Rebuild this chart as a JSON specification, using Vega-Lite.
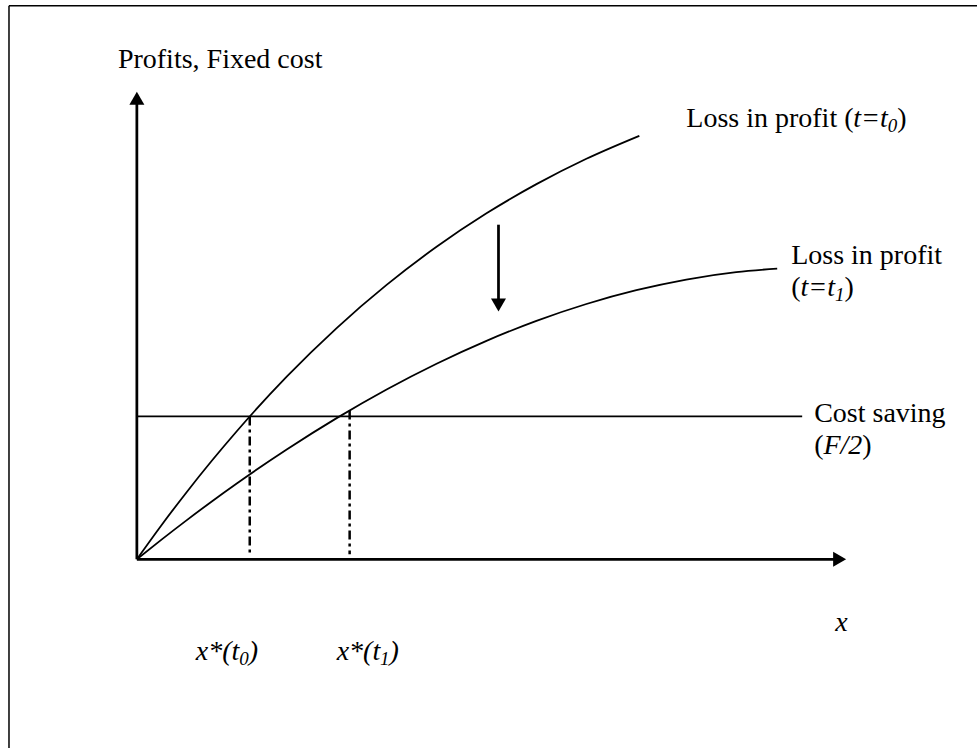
{
  "$schema": "https://vega.github.io/schema/vega-lite/v6.json",
  "width": 978,
  "height": 749,
  "autosize": {"type": "fit", "contains": "padding"},
  "padding": 0,
  "background": "white",
  "config": {"view": {"stroke": null}},
  "datasets": {
    "segs": [
      {"x": -1.28, "y": 5.5425, "x2": 8.41, "y2": 5.5425, "kind": "border"},
      {"x": -1.28, "y": 5.5425, "x2": -1.28, "y2": -1.89, "kind": "border"},
      {"x": 0, "y": 0, "x2": 0, "y2": 4.6, "kind": "axis"},
      {"x": 0, "y": 0, "x2": 6.98, "y2": 0, "kind": "axis"},
      {"x": 3.62, "y": 3.35, "x2": 3.62, "y2": 2.6, "kind": "axis"},
      {"x": 0, "y": 1.43, "x2": 6.66, "y2": 1.43, "kind": "thin"},
      {"x": 1.13, "y": 1.43, "x2": 1.13, "y2": 0.05, "kind": "dash"},
      {"x": 2.13, "y": 1.49, "x2": 2.13, "y2": 0.05, "kind": "dash"}
    ],
    "heads": [
      {"x": 0, "y": 4.615, "dir": "up"},
      {"x": 7.035, "y": 0, "dir": "right"},
      {"x": 3.62, "y": 2.545, "dir": "down"}
    ],
    "curves": [
      {"curve": "t0", "x": 0, "y": 0},
      {"curve": "t0", "x": 0.25, "y": 0.346},
      {"curve": "t0", "x": 0.5, "y": 0.674},
      {"curve": "t0", "x": 0.75, "y": 0.986},
      {"curve": "t0", "x": 1.0, "y": 1.282},
      {"curve": "t0", "x": 1.5, "y": 1.828},
      {"curve": "t0", "x": 2.0, "y": 2.315},
      {"curve": "t0", "x": 2.5, "y": 2.747},
      {"curve": "t0", "x": 3.0, "y": 3.129},
      {"curve": "t0", "x": 3.5, "y": 3.464},
      {"curve": "t0", "x": 4.0, "y": 3.756},
      {"curve": "t0", "x": 4.5, "y": 4.01},
      {"curve": "t0", "x": 5.03, "y": 4.24},
      {"curve": "t1", "x": 0, "y": 0},
      {"curve": "t1", "x": 0.25, "y": 0.199},
      {"curve": "t1", "x": 0.5, "y": 0.392},
      {"curve": "t1", "x": 0.75, "y": 0.579},
      {"curve": "t1", "x": 1.0, "y": 0.759},
      {"curve": "t1", "x": 1.5, "y": 1.099},
      {"curve": "t1", "x": 2.0, "y": 1.413},
      {"curve": "t1", "x": 2.5, "y": 1.7},
      {"curve": "t1", "x": 3.0, "y": 1.958},
      {"curve": "t1", "x": 3.5, "y": 2.187},
      {"curve": "t1", "x": 4.0, "y": 2.387},
      {"curve": "t1", "x": 4.5, "y": 2.556},
      {"curve": "t1", "x": 5.0, "y": 2.694},
      {"curve": "t1", "x": 5.5, "y": 2.801},
      {"curve": "t1", "x": 6.0, "y": 2.875},
      {"curve": "t1", "x": 6.41, "y": 2.91}
    ],
    "texts": [
      {"text": "Profits, Fixed cost", "x": -0.19, "y": 4.92, "style": "regular"},
      {"text": "Loss in profit (", "x": 5.5, "y": 4.33, "style": "regular"},
      {"text": "t=t", "x": 7.172, "y": 4.33, "style": "italic"},
      {"text": "0", "x": 7.517, "y": 4.28, "style": "sub"},
      {"text": ")", "x": 7.612, "y": 4.33, "style": "regular"},
      {"text": "Loss in profit", "x": 6.55, "y": 2.96, "style": "regular"},
      {"text": "(", "x": 6.55, "y": 2.64, "style": "regular"},
      {"text": "t=t", "x": 6.643, "y": 2.64, "style": "italic"},
      {"text": "1", "x": 6.988, "y": 2.59, "style": "sub"},
      {"text": ")", "x": 7.083, "y": 2.64, "style": "regular"},
      {"text": "Cost saving", "x": 6.78, "y": 1.37, "style": "regular"},
      {"text": "(", "x": 6.78, "y": 1.05, "style": "regular"},
      {"text": "F/2", "x": 6.873, "y": 1.05, "style": "italic"},
      {"text": ")", "x": 7.262, "y": 1.05, "style": "regular"},
      {"text": "x", "x": 6.99, "y": -0.72, "style": "italic"},
      {"text": "x*(t", "x": 0.59, "y": -1.01, "style": "italic"},
      {"text": "0", "x": 1.025, "y": -1.06, "style": "sub"},
      {"text": ")", "x": 1.12, "y": -1.01, "style": "italic"},
      {"text": "x*(t", "x": 2.0, "y": -1.01, "style": "italic"},
      {"text": "1", "x": 2.435, "y": -1.06, "style": "sub"},
      {"text": ")", "x": 2.53, "y": -1.01, "style": "italic"}
    ]
  },
  "layer": [
    {
      "data": {"name": "segs"},
      "transform": [{"filter": "datum.kind === 'border'"}],
      "mark": {"type": "rule", "color": "black", "strokeWidth": 1.5},
      "encoding": {
        "x": {"field": "x", "type": "quantitative", "scale": {"domain": [-1.37, 8.41], "nice": false, "zero": false}, "axis": null},
        "y": {"field": "y", "type": "quantitative", "scale": {"domain": [-1.89, 5.6], "nice": false, "zero": false}, "axis": null},
        "x2": {"field": "x2"},
        "y2": {"field": "y2"}
      }
    },
    {
      "data": {"name": "segs"},
      "transform": [{"filter": "datum.kind === 'axis'"}],
      "mark": {"type": "rule", "color": "black", "strokeWidth": 2.75},
      "encoding": {
        "x": {"field": "x", "type": "quantitative", "scale": {"domain": [-1.37, 8.41], "nice": false, "zero": false}, "axis": null},
        "y": {"field": "y", "type": "quantitative", "scale": {"domain": [-1.89, 5.6], "nice": false, "zero": false}, "axis": null},
        "x2": {"field": "x2"},
        "y2": {"field": "y2"}
      }
    },
    {
      "data": {"name": "segs"},
      "transform": [{"filter": "datum.kind === 'thin'"}],
      "mark": {"type": "rule", "color": "black", "strokeWidth": 1.7},
      "encoding": {
        "x": {"field": "x", "type": "quantitative", "scale": {"domain": [-1.37, 8.41], "nice": false, "zero": false}, "axis": null},
        "y": {"field": "y", "type": "quantitative", "scale": {"domain": [-1.89, 5.6], "nice": false, "zero": false}, "axis": null},
        "x2": {"field": "x2"},
        "y2": {"field": "y2"}
      }
    },
    {
      "data": {"name": "segs"},
      "transform": [{"filter": "datum.kind === 'dash'"}],
      "mark": {"type": "rule", "color": "black", "strokeWidth": 2.5, "strokeDash": [9, 4, 3, 4]},
      "encoding": {
        "x": {"field": "x", "type": "quantitative", "scale": {"domain": [-1.37, 8.41], "nice": false, "zero": false}, "axis": null},
        "y": {"field": "y", "type": "quantitative", "scale": {"domain": [-1.89, 5.6], "nice": false, "zero": false}, "axis": null},
        "x2": {"field": "x2"},
        "y2": {"field": "y2"}
      }
    },
    {
      "data": {"name": "curves"},
      "mark": {"type": "line", "color": "black", "strokeWidth": 1.8, "interpolate": "monotone"},
      "encoding": {
        "x": {"field": "x", "type": "quantitative", "scale": {"domain": [-1.37, 8.41], "nice": false, "zero": false}, "axis": null},
        "y": {"field": "y", "type": "quantitative", "scale": {"domain": [-1.89, 5.6], "nice": false, "zero": false}, "axis": null},
        "detail": {"field": "curve", "type": "nominal"}
      }
    },
    {
      "data": {"name": "heads"},
      "transform": [{"filter": "datum.dir === 'up'"}],
      "mark": {"type": "point", "shape": "triangle-up", "filled": true, "color": "black", "opacity": 1, "size": 225, "strokeWidth": 0},
      "encoding": {
        "x": {"field": "x", "type": "quantitative", "scale": {"domain": [-1.37, 8.41], "nice": false, "zero": false}, "axis": null},
        "y": {"field": "y", "type": "quantitative", "scale": {"domain": [-1.89, 5.6], "nice": false, "zero": false}, "axis": null}
      }
    },
    {
      "data": {"name": "heads"},
      "transform": [{"filter": "datum.dir === 'right'"}],
      "mark": {"type": "point", "shape": "triangle-right", "filled": true, "color": "black", "opacity": 1, "size": 225, "strokeWidth": 0},
      "encoding": {
        "x": {"field": "x", "type": "quantitative", "scale": {"domain": [-1.37, 8.41], "nice": false, "zero": false}, "axis": null},
        "y": {"field": "y", "type": "quantitative", "scale": {"domain": [-1.89, 5.6], "nice": false, "zero": false}, "axis": null}
      }
    },
    {
      "data": {"name": "heads"},
      "transform": [{"filter": "datum.dir === 'down'"}],
      "mark": {"type": "point", "shape": "triangle-down", "filled": true, "color": "black", "opacity": 1, "size": 225, "strokeWidth": 0},
      "encoding": {
        "x": {"field": "x", "type": "quantitative", "scale": {"domain": [-1.37, 8.41], "nice": false, "zero": false}, "axis": null},
        "y": {"field": "y", "type": "quantitative", "scale": {"domain": [-1.89, 5.6], "nice": false, "zero": false}, "axis": null}
      }
    },
    {
      "data": {"name": "texts"},
      "transform": [{"filter": "datum.style === 'regular'"}],
      "mark": {"type": "text", "align": "left", "baseline": "alphabetic", "font": "Liberation Serif", "fontSize": 28, "color": "black"},
      "encoding": {
        "x": {"field": "x", "type": "quantitative", "scale": {"domain": [-1.37, 8.41], "nice": false, "zero": false}, "axis": null},
        "y": {"field": "y", "type": "quantitative", "scale": {"domain": [-1.89, 5.6], "nice": false, "zero": false}, "axis": null},
        "text": {"field": "text", "type": "nominal"}
      }
    },
    {
      "data": {"name": "texts"},
      "transform": [{"filter": "datum.style === 'italic'"}],
      "mark": {"type": "text", "align": "left", "baseline": "alphabetic", "font": "Liberation Serif", "fontSize": 28, "fontStyle": "italic", "color": "black"},
      "encoding": {
        "x": {"field": "x", "type": "quantitative", "scale": {"domain": [-1.37, 8.41], "nice": false, "zero": false}, "axis": null},
        "y": {"field": "y", "type": "quantitative", "scale": {"domain": [-1.89, 5.6], "nice": false, "zero": false}, "axis": null},
        "text": {"field": "text", "type": "nominal"}
      }
    },
    {
      "data": {"name": "texts"},
      "transform": [{"filter": "datum.style === 'sub'"}],
      "mark": {"type": "text", "align": "left", "baseline": "alphabetic", "font": "Liberation Serif", "fontSize": 19, "fontStyle": "italic", "color": "black"},
      "encoding": {
        "x": {"field": "x", "type": "quantitative", "scale": {"domain": [-1.37, 8.41], "nice": false, "zero": false}, "axis": null},
        "y": {"field": "y", "type": "quantitative", "scale": {"domain": [-1.89, 5.6], "nice": false, "zero": false}, "axis": null},
        "text": {"field": "text", "type": "nominal"}
      }
    }
  ]
}
